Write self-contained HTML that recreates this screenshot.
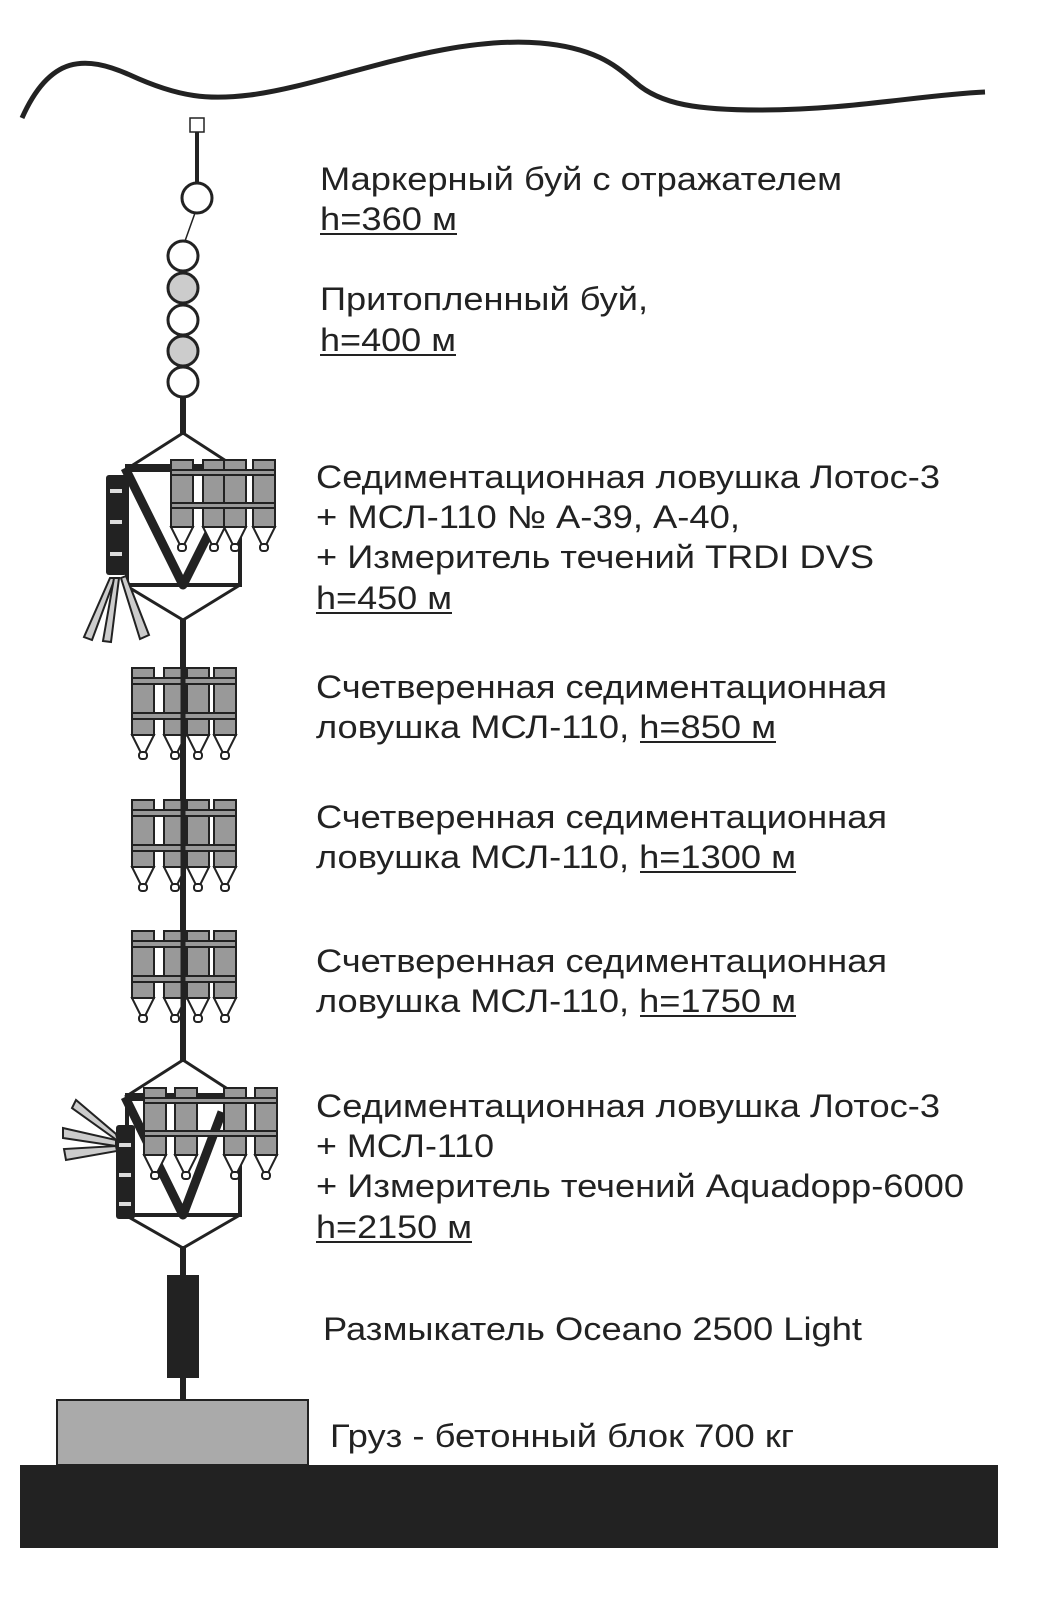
<!DOCTYPE html>
<html><head><meta charset="utf-8"><style>
html,body{margin:0;padding:0;background:#fff}
svg{display:block}
text{font-family:"Liberation Sans",sans-serif;font-size:32px;fill:#222}
</style></head><body>
<svg width="1038" height="1608" viewBox="0 0 1038 1608" xmlns="http://www.w3.org/2000/svg">
<defs>
<g id="cyl">
<rect x="0" y="0" width="22" height="67" fill="#999" stroke="#222" stroke-width="2"/>
<polygon points="0,67 22,67 13,85 9,85" fill="#fff" stroke="#222" stroke-width="2"/>
<rect x="7" y="84" width="8" height="7" rx="3" fill="#fff" stroke="#222" stroke-width="2"/>
</g>
<g id="quad">
<use href="#cyl" x="0" y="0"/><use href="#cyl" x="32" y="0"/><use href="#cyl" x="55" y="0"/><use href="#cyl" x="82" y="0"/>
<rect x="0" y="10" width="104" height="6" fill="#999" stroke="#222" stroke-width="2"/>
<rect x="0" y="45" width="104" height="6" fill="#999" stroke="#222" stroke-width="2"/>
</g>
</defs>
<path d="M22,118 C50,55 85,55 130,75 C180,98 210,100 250,95 C330,85 440,35 540,43 C600,48 620,70 635,82 C660,105 700,110 760,110 C850,110 920,95 985,92" fill="none" stroke="#222" stroke-width="5"/>
<!-- mooring line -->
<line x1="197" y1="132" x2="197" y2="183" stroke="#222" stroke-width="4"/>
<rect x="190" y="118" width="14" height="14" fill="#fff" stroke="#222" stroke-width="1.5"/>
<circle cx="197" cy="198" r="15" fill="#fff" stroke="#222" stroke-width="3"/>
<line x1="195" y1="213" x2="185" y2="241" stroke="#222" stroke-width="1.5"/>
<line x1="183" y1="397" x2="183" y2="435" stroke="#222" stroke-width="6"/>
<circle cx="183" cy="256" r="15" fill="#fff" stroke="#222" stroke-width="3"/>
<circle cx="183" cy="288" r="15" fill="#ccc" stroke="#222" stroke-width="3"/>
<circle cx="183" cy="320" r="15" fill="#fff" stroke="#222" stroke-width="3"/>
<circle cx="183" cy="351" r="15" fill="#ccc" stroke="#222" stroke-width="3"/>
<circle cx="183" cy="382" r="15" fill="#fff" stroke="#222" stroke-width="3"/>
<!-- main line segments -->
<line x1="183" y1="620" x2="183" y2="1062" stroke="#222" stroke-width="6"/>
<line x1="183" y1="1246" x2="183" y2="1400" stroke="#222" stroke-width="6"/>
<!-- top Lotos -->
<polyline points="125,470 183,433 240,470" fill="none" stroke="#222" stroke-width="3"/>
<rect x="127" y="470" width="113" height="115" fill="none" stroke="#222" stroke-width="4"/>
<polyline points="125,585 183,620 240,585" fill="none" stroke="#222" stroke-width="3"/>
<line x1="125" y1="468" x2="230" y2="468" stroke="#222" stroke-width="8"/>
<polyline points="125,468 183,585 218,515" fill="none" stroke="#222" stroke-width="9" stroke-linejoin="round"/>
<g transform="translate(171,460)">
<use href="#cyl" x="0"/><use href="#cyl" x="32"/><use href="#cyl" x="53"/><use href="#cyl" x="82"/>
<rect x="0" y="10" width="104" height="5" fill="#999" stroke="#222" stroke-width="2"/>
<rect x="0" y="43" width="104" height="5" fill="#999" stroke="#222" stroke-width="2"/>
</g>
<rect x="106" y="475" width="21" height="100" rx="3" fill="#222"/>
<rect x="110" y="489" width="12" height="4" fill="#ddd"/>
<rect x="110" y="520" width="12" height="4" fill="#ddd"/>
<rect x="110" y="552" width="12" height="4" fill="#ddd"/>
<polygon points="110,578 115,578 92,640 84,637" fill="#ccc" stroke="#222" stroke-width="2"/>
<polygon points="114,578 119,578 111,642 103,641" fill="#ccc" stroke="#222" stroke-width="2"/>
<polygon points="121,578 126,576 149,635 140,639" fill="#ccc" stroke="#222" stroke-width="2"/>
<!-- quads -->
<use href="#quad" x="132" y="668"/>
<use href="#quad" x="132" y="800"/>
<use href="#quad" x="132" y="931"/>
<line x1="183" y1="660" x2="183" y2="1060" stroke="#222" stroke-width="5"/>
<!-- bottom Lotos -->
<polyline points="125,1097 183,1060 240,1097" fill="none" stroke="#222" stroke-width="3"/>
<rect x="127" y="1097" width="113" height="118" fill="none" stroke="#222" stroke-width="4"/>
<polyline points="125,1215 183,1248 240,1215" fill="none" stroke="#222" stroke-width="3"/>
<line x1="125" y1="1097" x2="245" y2="1097" stroke="#222" stroke-width="8"/>
<polyline points="125,1097 183,1215 222,1112" fill="none" stroke="#222" stroke-width="9" stroke-linejoin="round"/>
<g transform="translate(144,1088)">
<use href="#cyl" x="0"/><use href="#cyl" x="31"/><use href="#cyl" x="80"/><use href="#cyl" x="111"/>
<rect x="0" y="10" width="133" height="5" fill="#999" stroke="#222" stroke-width="2"/>
<rect x="0" y="43" width="133" height="5" fill="#999" stroke="#222" stroke-width="2"/>
</g>
<rect x="116" y="1125" width="19" height="94" rx="3" fill="#222"/>
<rect x="119" y="1143" width="12" height="4" fill="#ddd"/>
<rect x="119" y="1173" width="12" height="4" fill="#ddd"/>
<rect x="119" y="1202" width="12" height="4" fill="#ddd"/>
<polygon points="116,1134 118,1141 72,1108 76,1100" fill="#ccc" stroke="#222" stroke-width="2"/>
<polygon points="116,1140 116,1146 63,1138 63,1128" fill="#ccc" stroke="#222" stroke-width="2"/>
<polygon points="116,1146 117,1151 66,1160 64,1149" fill="#ccc" stroke="#222" stroke-width="2"/>
<!-- release, weight, ground -->
<rect x="167" y="1275" width="32" height="103" fill="#222"/>
<rect x="57" y="1400" width="251" height="65" fill="#aaa" stroke="#222" stroke-width="2"/>
<rect x="20" y="1465" width="978" height="83" fill="#222"/>
<!-- text -->
<text x="320" y="190" textLength="522" lengthAdjust="spacingAndGlyphs">Маркерный буй с отражателем</text>
<text x="320" y="230" textLength="137" lengthAdjust="spacingAndGlyphs">h=360 м</text>
<line x1="320" y1="234" x2="457" y2="234" stroke="#222" stroke-width="2"/>
<text x="320" y="310" textLength="328" lengthAdjust="spacingAndGlyphs">Притопленный буй,</text>
<text x="320" y="351" textLength="136" lengthAdjust="spacingAndGlyphs">h=400 м</text>
<line x1="320" y1="355" x2="456" y2="355" stroke="#222" stroke-width="2"/>
<text x="316" y="488" textLength="624" lengthAdjust="spacingAndGlyphs">Седиментационная ловушка Лотос-3</text>
<text x="316" y="528" textLength="424" lengthAdjust="spacingAndGlyphs">+ МСЛ-110 № А-39, А-40,</text>
<text x="316" y="568" textLength="558" lengthAdjust="spacingAndGlyphs">+ Измеритель течений TRDI DVS</text>
<text x="316" y="609" textLength="136" lengthAdjust="spacingAndGlyphs">h=450 м</text>
<line x1="316" y1="613" x2="452" y2="613" stroke="#222" stroke-width="2"/>
<text x="316" y="698" textLength="571" lengthAdjust="spacingAndGlyphs">Счетверенная седиментационная</text>
<text x="316" y="738" textLength="460" lengthAdjust="spacingAndGlyphs">ловушка МСЛ-110, h=850 м</text>
<line x1="640" y1="742" x2="776" y2="742" stroke="#222" stroke-width="2"/>
<text x="316" y="828" textLength="571" lengthAdjust="spacingAndGlyphs">Счетверенная седиментационная</text>
<text x="316" y="868" textLength="480" lengthAdjust="spacingAndGlyphs">ловушка МСЛ-110, h=1300 м</text>
<line x1="640" y1="872" x2="796" y2="872" stroke="#222" stroke-width="2"/>
<text x="316" y="972" textLength="571" lengthAdjust="spacingAndGlyphs">Счетверенная седиментационная</text>
<text x="316" y="1012" textLength="480" lengthAdjust="spacingAndGlyphs">ловушка МСЛ-110, h=1750 м</text>
<line x1="640" y1="1016" x2="796" y2="1016" stroke="#222" stroke-width="2"/>
<text x="316" y="1117" textLength="624" lengthAdjust="spacingAndGlyphs">Седиментационная ловушка Лотос-3</text>
<text x="316" y="1157" textLength="178" lengthAdjust="spacingAndGlyphs">+ МСЛ-110</text>
<text x="316" y="1197" textLength="648" lengthAdjust="spacingAndGlyphs">+ Измеритель течений Aquadopp-6000</text>
<text x="316" y="1238" textLength="156" lengthAdjust="spacingAndGlyphs">h=2150 м</text>
<line x1="316" y1="1242" x2="472" y2="1242" stroke="#222" stroke-width="2"/>
<text x="323" y="1340" textLength="539" lengthAdjust="spacingAndGlyphs">Размыкатель Oceano 2500 Light</text>
<text x="330" y="1447" textLength="464" lengthAdjust="spacingAndGlyphs">Груз - бетонный блок 700 кг</text>
</svg>
</body></html>
